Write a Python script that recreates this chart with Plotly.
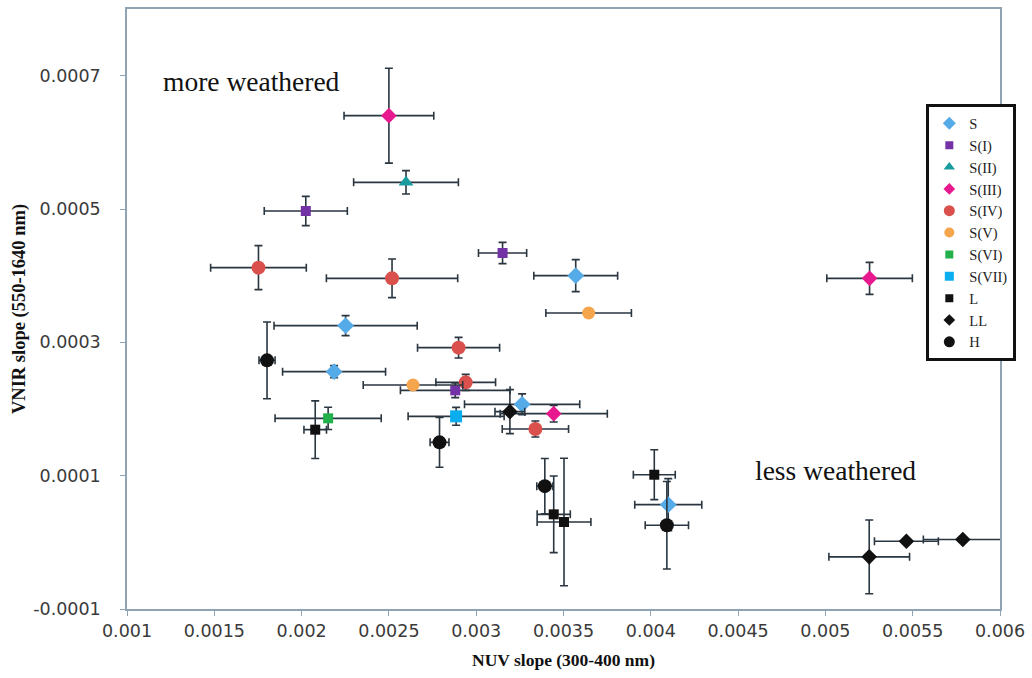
import plotly.graph_objects as go

# ---- data (NUV slope x, VNIR slope y, x error, y error) ----
S_x = [0.00357, 0.002252, 0.002186, 0.003263, 0.0041]
S_y = [0.000400, 0.000325, 0.000256, 0.000207, 0.0000565]
S_xe = [0.00024, 0.00041, 0.000295, 0.00033, 0.000192]
S_ye = [0.000024, 0.000015, 0.000009, 0.0000157, 0.000039]

SI_x = [0.002024, 0.003151, 0.00288]
SI_y = [0.000497, 0.000434, 0.000228]
SI_xe = [0.000238, 0.000138, 0.000314]
SI_ye = [0.000022, 0.000016, 0.000011]

SII_x = [0.002598]
SII_y = [0.00054]
SII_xe = [0.0003]
SII_ye = [0.0000175]

SIII_x = [0.0025, 0.005253, 0.003444]
SIII_y = [0.00064, 0.000396, 0.000193]
SIII_xe = [0.000257, 0.000245, 0.000307]
SIII_ye = [0.0000712, 0.000024, 0.0000125]

SIV_x = [0.001753, 0.002518, 0.002899, 0.00294, 0.003339]
SIV_y = [0.000412, 0.000396, 0.000292, 0.00024, 0.00017]
SIV_xe = [0.000274, 0.000376, 0.000235, 0.000171, 0.00019]
SIV_ye = [0.000033, 0.000029, 0.0000155, 0.000012, 0.000012]

SV_x = [0.003644, 0.002638]
SV_y = [0.000344, 0.000236]
SV_xe = [0.000245, 0.000285]
SV_ye = [0.000005, 0.000005]

SVI_x = [0.002152]
SVI_y = [0.000186]
SVI_xe = [0.000304]
SVI_ye = [0.0000167]

SVII_x = [0.002885]
SVII_y = [0.000189]
SVII_xe = [0.000275]
SVII_ye = [0.0000134]

L_x = [0.002078, 0.00402, 0.003444, 0.003503]
L_y = [0.000169, 0.0001014, 0.000042, 0.0000305]
L_xe = [0.0000645, 0.00012, 0.000095, 0.000154]
L_ye = [0.0000432, 0.0000374, 0.0000575, 0.0000957]

LL_x = [0.003193, 0.005251, 0.005464, 0.005787]
LL_y = [0.000196, -0.0000218, 0.0000017, 0.0000042]
LL_xe = [0.0000855, 0.000231, 0.000183, 0.000226]
LL_ye = [0.000033, 0.0000553, 0.000003, 0.000003]

H_x = [0.001802, 0.00279, 0.003393, 0.004092]
H_y = [0.000273, 0.00015, 0.0000843, 0.0000256]
H_xe = [0.000046, 0.000054, 0.000046, 0.000124]
H_ye = [0.0000576, 0.0000374, 0.0000415, 0.0000656]

x_tickvals = [0.001, 0.0015, 0.002, 0.0025, 0.003, 0.0035, 0.004, 0.0045, 0.005, 0.0055, 0.006]
x_ticktext = ["0.001", "0.0015", "0.002", "0.0025", "0.003", "0.0035", "0.004", "0.0045", "0.005", "0.0055", "0.006"]
y_tickvals = [-0.0001, 0.0001, 0.0003, 0.0005, 0.0007]
y_ticktext = ["-0.0001", "0.0001", "0.0003", "0.0005", "0.0007"]

series = [
    ("S", S_x, S_y, S_xe, S_ye, "diamond", "#55ABE8", 13),
    ("S(I)", SI_x, SI_y, SI_xe, SI_ye, "square", "#7332A6", 10),
    ("S(II)", SII_x, SII_y, SII_xe, SII_ye, "triangle-up", "#1A9C9E", 13),
    ("S(III)", SIII_x, SIII_y, SIII_xe, SIII_ye, "diamond", "#E8188E", 12),
    ("S(IV)", SIV_x, SIV_y, SIV_xe, SIV_ye, "circle", "#D9504C", 14),
    ("S(V)", SV_x, SV_y, SV_xe, SV_ye, "circle", "#F5A54C", 13),
    ("S(VI)", SVI_x, SVI_y, SVI_xe, SVI_ye, "square", "#22B04A", 10),
    ("S(VII)", SVII_x, SVII_y, SVII_xe, SVII_ye, "square", "#0AAEEF", 12),
    ("L", L_x, L_y, L_xe, L_ye, "square", "#111111", 10),
    ("LL", LL_x, LL_y, LL_xe, LL_ye, "diamond", "#111111", 12),
    ("H", H_x, H_y, H_xe, H_ye, "circle", "#111111", 14),
]

ERR = "#2A3640"
fig = go.Figure()
for name, xs, ys, xe, ye, sym, col, sz in series:
    fig.add_trace(go.Scatter(
        x=xs, y=ys, mode="markers", name=name, showlegend=False,
        marker=dict(symbol=sym, color=col, size=sz, line=dict(width=0)),
        error_x=dict(type="data", array=xe, visible=True, color=ERR, thickness=1.6, width=4),
        error_y=dict(type="data", array=ye, visible=True, color=ERR, thickness=1.6, width=4),
    ))
# legend entries with smaller markers, like the original
for name, xs, ys, xe, ye, sym, col, sz in series:
    fig.add_trace(go.Scatter(
        x=[None], y=[None], mode="markers", name=name,
        marker=dict(symbol=sym, color=col, size=max(sz - 3, 8), line=dict(width=0)),
    ))

AX = "#8FA3B3"
TICKFONT = dict(family="DejaVu Sans", size=17.5, color="#3A3A3A")

fig.update_layout(
    width=1032, height=678,
    margin=dict(l=127, r=28, t=7, b=69),
    paper_bgcolor="white", plot_bgcolor="white",
    showlegend=True,
    legend=dict(
        x=0.9156, y=0.841, xanchor="left", yanchor="top",
        bgcolor="white", bordercolor="#111111", borderwidth=3,
        font=dict(family="Liberation Serif", size=14.5, color="#222222"),
        itemwidth=30, tracegroupgap=0,
    ),
    xaxis=dict(
        range=[0.001, 0.006], tickvals=x_tickvals, ticktext=x_ticktext,
        showgrid=False, zeroline=False, showline=True, linecolor=AX, linewidth=1.5,
        mirror=True, ticks="outside", ticklen=5, tickcolor=AX, tickfont=TICKFONT,
        title=dict(text="<b>NUV slope (300-400 nm)</b>",
                   font=dict(family="Liberation Serif", size=17.5, color="#111111"), standoff=14),
    ),
    yaxis=dict(
        range=[-0.0001, 0.0008], tickvals=y_tickvals, ticktext=y_ticktext,
        showgrid=False, zeroline=False, showline=True, linecolor=AX, linewidth=1.5,
        mirror=True, ticks="outside", ticklen=5, tickcolor=AX, tickfont=TICKFONT,
        ticklabelstandoff=16,
        title=dict(text="<b>VNIR slope (550-1640 nm)</b>",
                   font=dict(family="Liberation Serif", size=18.5, color="#111111"), standoff=3),
    ),
    annotations=[
        dict(text="more weathered", xref="paper", yref="paper", x=0.1425, y=0.8787,
             xanchor="center", yanchor="middle", showarrow=False,
             font=dict(family="Liberation Serif", size=27.5, color="#111111")),
        dict(text="less weathered", xref="paper", yref="paper", x=0.812, y=0.231,
             xanchor="center", yanchor="middle", showarrow=False,
             font=dict(family="Liberation Serif", size=27.5, color="#111111")),
    ],
)

fig.write_html("out.html")
